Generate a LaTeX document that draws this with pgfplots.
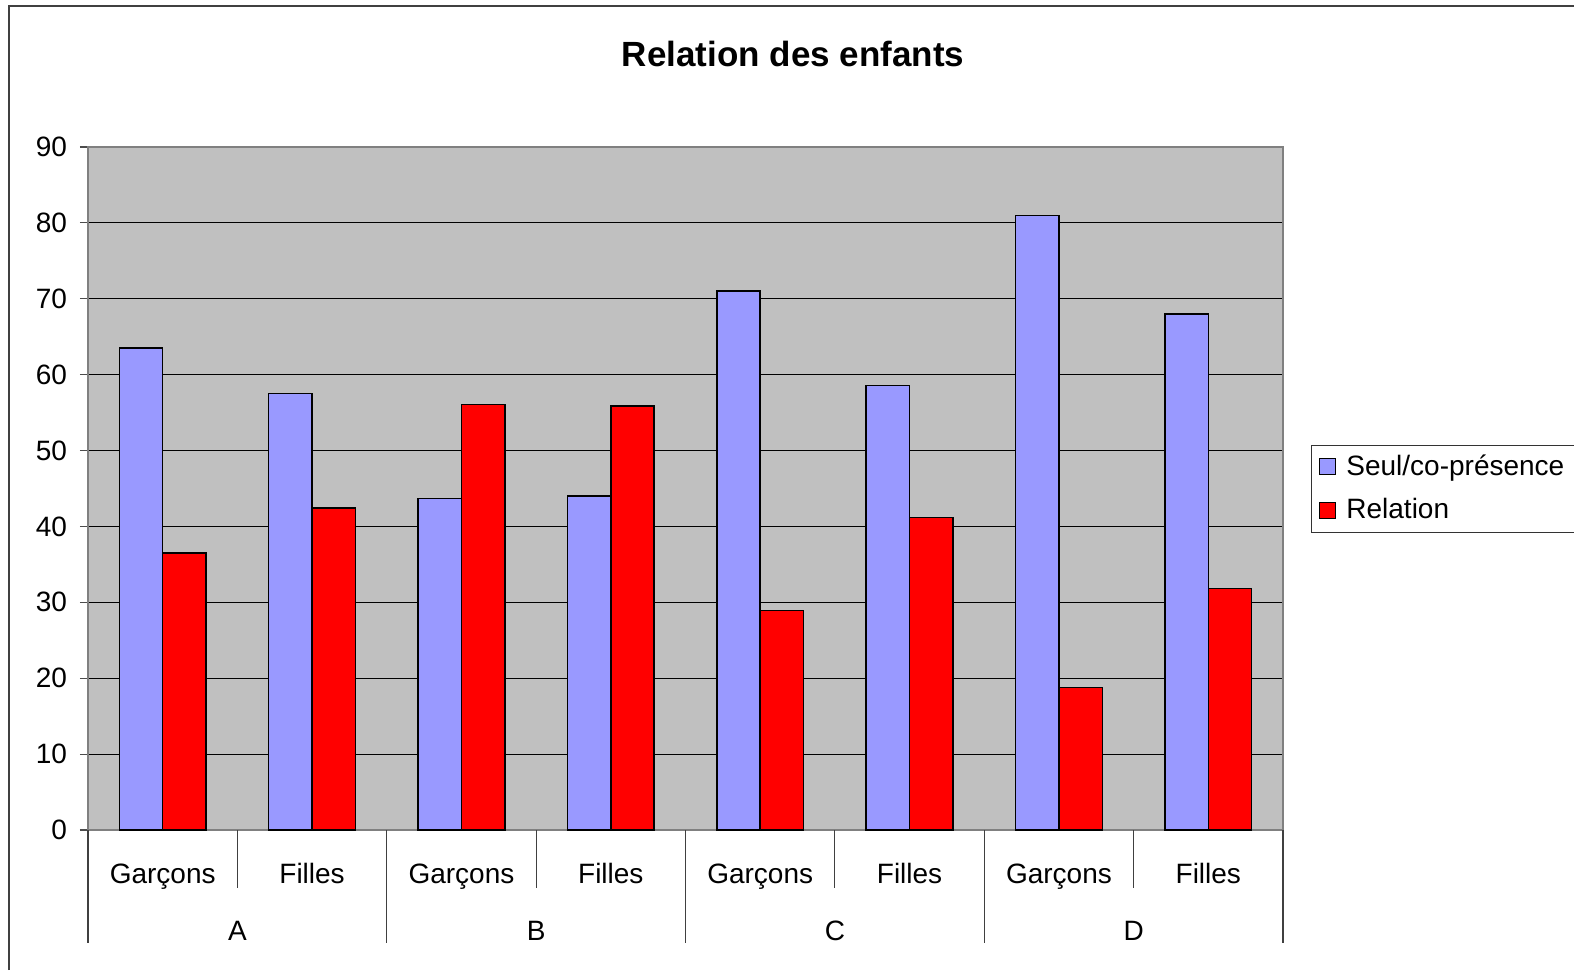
\documentclass[border=0pt]{standalone}
\usepackage{pgfplots}
\pgfplotsset{compat=1.18}
\usepackage{fontspec}
\setmainfont{Liberation Sans}
\definecolor{barblue}{HTML}{9999FF}
\definecolor{barred}{HTML}{FF0000}
\definecolor{plotgray}{HTML}{C0C0C0}
\begin{document}
\begin{tikzpicture}
\path[use as bounding box] (0,0) rectangle (787pt,485pt);
\draw[black!75, line width=1pt] (4.5pt,0) -- (4.5pt,482pt) -- (787pt,482pt);
\node[font=\fontsize{17.5}{20}\selectfont\bfseries] at (396.5pt,458pt) {Relation des enfants};
\begin{axis}[
  at={(44pt,70pt)}, anchor=south west,
  width=597.5pt, height=341.5pt, scale only axis,
  xmin=-0.5, xmax=7.5, ymin=0, ymax=90,
  ytick={0,10,...,90},
  xtick={0,...,7},
  xticklabels={Garçons,Filles,Garçons,Filles,Garçons,Filles,Garçons,Filles},
  x tick style={draw=none},
  xticklabel style={anchor=base, yshift=-22.5pt},
  tick align=outside, major tick length=4pt,
  y tick style={black!70, line width=0.6pt},
  ytick pos=left,
  yticklabel style={xshift=-3pt},
  ymajorgrids, grid style={black, line width=0.5pt},
  axis background/.style={fill=plotgray},
  axis line style={black!50, line width=0.8pt},
  tick label style={font=\fontsize{14}{16}\selectfont},
  /pgf/number format/assume math mode=true,
  clip=false,
  legend style={at={(1,0.5)}, anchor=west, xshift=14pt, draw=black!80, fill=white,
    font=\fontsize{14}{16}\selectfont, row sep=6pt, column sep=3pt, inner xsep=4pt, inner ysep=3pt,
    legend cell align=left},
  legend image code/.code={\draw[#1, draw=black, line width=0.5pt] (0pt,-4pt) rectangle (8pt,4pt);},
]
\addplot[ybar, bar width=0.29, bar shift=-0.145, fill=barblue, draw=black, line width=0.75pt]
  coordinates {(0,63.5) (1,57.5) (2,43.7) (3,44.0) (4,71.0) (5,58.6) (6,81.0) (7,68.0)};
\addplot[ybar, bar width=0.29, bar shift=0.145, fill=barred, draw=black, line width=0.75pt]
  coordinates {(0,36.5) (1,42.4) (2,56.1) (3,55.9) (4,28.9) (5,41.2) (6,18.8) (7,31.8)};
\legend{Seul/co-présence, Relation}
\pgfplotsinvokeforeach{0.5,2.5,4.5,6.5}{
  \draw[black!75, line width=0.6pt] (axis cs:#1,0) -- ([yshift=-29pt]axis cs:#1,0);
}
\pgfplotsinvokeforeach{-0.5,1.5,3.5,5.5,7.5}{
  \draw[black!75, line width=0.6pt] (axis cs:#1,0) -- ([yshift=-56.5pt]axis cs:#1,0);
}
\node[font=\fontsize{14}{16}\selectfont, anchor=base] at ([yshift=-55pt]axis cs:0.5,0) {A};
\node[font=\fontsize{14}{16}\selectfont, anchor=base] at ([yshift=-55pt]axis cs:2.5,0) {B};
\node[font=\fontsize{14}{16}\selectfont, anchor=base] at ([yshift=-55pt]axis cs:4.5,0) {C};
\node[font=\fontsize{14}{16}\selectfont, anchor=base] at ([yshift=-55pt]axis cs:6.5,0) {D};
\end{axis}
\end{tikzpicture}
\end{document}
